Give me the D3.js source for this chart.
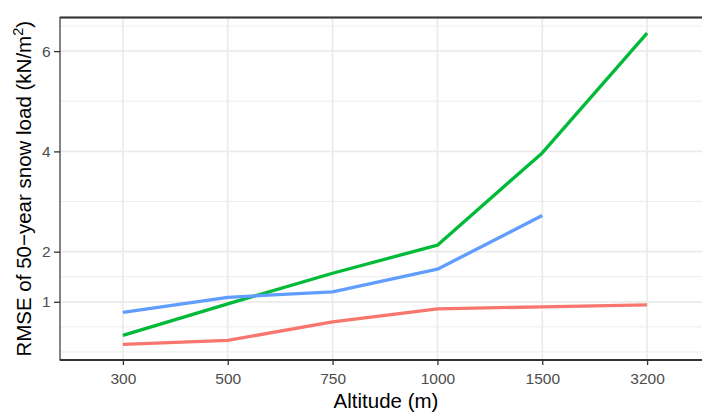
<!DOCTYPE html>
<html><head><meta charset="utf-8">
<script src="https://cdn.jsdelivr.net/npm/d3@7"></script>
<style>body{margin:0;background:#fff}svg{display:block}</style>
</head><body>
<script>
const altitudes = ["300","500","750","1000","1500","3200"];
const redValues = [0.15, 0.23, 0.60, 0.86, 0.90, 0.94];
const blueValues = [0.79, 1.09, 1.20, 1.65, 2.72, null];
const greenValues = [0.33, 0.96, 1.57, 2.13, 3.97, 6.36];
const yTicks = [1, 2, 4, 6];
const yMinor = [0, 0.5, 1.5, 3, 5, 6.5];
const series = [
  {name:"red", color:"#F8766D", values: redValues},
  {name:"green", color:"#00BA38", values: greenValues},
  {name:"blue", color:"#619CFF", values: blueValues}
];

(function(){
const W = 702, H = 415;
const pL = 60, pR = 710, pT = 17.5, pB = 360;
const svg = d3.select("body").append("svg").attr("width", W).attr("height", H);

const x = d3.scalePoint().domain(altitudes).range([pL, pR]).padding(0.6);
const all = [].concat(redValues, blueValues, greenValues).filter(v => v != null);
const ext = d3.extent(all);
const pad = (ext[1] - ext[0]) * 0.05;
const y = d3.scaleLinear().domain([ext[0] - pad, ext[1] + pad]).range([pB, pT]);

const g = svg.append("g");
g.selectAll(".minor").data(yMinor).enter().append("line")
  .attr("x1", pL).attr("x2", pR).attr("y1", d => y(d)).attr("y2", d => y(d))
  .attr("stroke", "#EBEBEB").attr("stroke-width", 0.9);
g.selectAll(".major").data(yTicks).enter().append("line")
  .attr("x1", pL).attr("x2", pR).attr("y1", d => y(d)).attr("y2", d => y(d))
  .attr("stroke", "#EBEBEB").attr("stroke-width", 1.7);
g.selectAll(".vmajor").data(altitudes).enter().append("line")
  .attr("y1", pT).attr("y2", pB).attr("x1", d => x(d)).attr("x2", d => x(d))
  .attr("stroke", "#EBEBEB").attr("stroke-width", 1.7);

const line = d3.line().defined(d => d.v != null).x(d => x(d.a)).y(d => y(d.v));
series.forEach(s => {
  svg.append("path")
    .datum(altitudes.map((a, i) => ({a, v: s.values[i]})))
    .attr("d", line).attr("fill", "none").attr("stroke", s.color)
    .attr("stroke-width", 3.3).attr("stroke-linejoin", "round");
});

svg.append("rect").attr("x", pL).attr("y", pT).attr("width", pR - pL).attr("height", pB - pT)
  .attr("fill", "none").attr("stroke", "#333").attr("stroke-width", 1.2);
svg.append("line").attr("x1", pL).attr("x2", pR).attr("y1", pT).attr("y2", pT)
  .attr("stroke", "#333").attr("stroke-width", 2.2);
svg.append("line").attr("x1", pL).attr("x2", pR).attr("y1", pB).attr("y2", pB)
  .attr("stroke", "#333").attr("stroke-width", 2);

const font = "Liberation Sans, Arial, sans-serif";
const xa = svg.append("g").attr("transform", `translate(0,${pB})`)
  .call(d3.axisBottom(x).tickSize(5).tickPadding(8));
xa.select(".domain").remove();
xa.selectAll("line").attr("stroke", "#333").attr("stroke-width", 1.3);
xa.selectAll("text").attr("fill", "#4D4D4D").attr("font-size", "15.5px").attr("font-family", font);

const ya = svg.append("g").attr("transform", `translate(${pL},0)`)
  .call(d3.axisLeft(y).tickValues(yTicks).tickFormat(d3.format("d")).tickSize(6).tickPadding(3.5));
ya.select(".domain").remove();
ya.selectAll("line").attr("stroke", "#333").attr("stroke-width", 1.3);
ya.selectAll("text").attr("fill", "#4D4D4D").attr("font-size", "15.5px").attr("font-family", font);

svg.append("text").attr("x", 386).attr("y", 408)
  .attr("text-anchor", "middle").attr("font-size", "20.5px")
  .attr("font-family", font).attr("fill", "#000")
  .text("Altitude (m)");
const yt = svg.append("text").attr("transform", `translate(31,${(pT + pB) / 2}) rotate(-90)`)
  .attr("text-anchor", "middle").attr("font-size", "20.5px")
  .attr("font-family", font).attr("fill", "#000");
yt.append("tspan").text("RMSE of 50\u2212year snow load (kN/m");
yt.append("tspan").attr("dy", "-8").attr("font-size", "14.5px").text("2");
yt.append("tspan").attr("dy", "8").text(")");
})();
</script>
</body></html>
